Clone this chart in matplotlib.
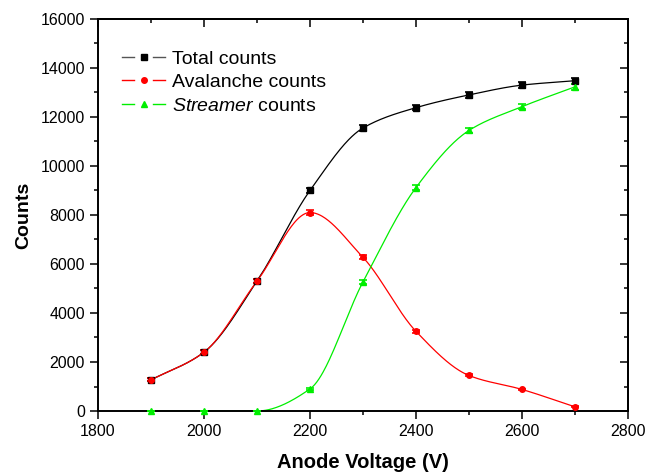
import numpy as np
import matplotlib
matplotlib.use("Agg")
import matplotlib.pyplot as plt
from matplotlib.ticker import MultipleLocator
from matplotlib.lines import Line2D
from matplotlib.legend_handler import HandlerBase

plt.rcParams['font.family'] = ['Liberation Sans', 'DejaVu Sans']
plt.rcParams['mathtext.fontset'] = 'custom'
plt.rcParams['mathtext.it'] = 'Liberation Sans:italic'
plt.rcParams['mathtext.rm'] = 'Liberation Sans'

voltage = [1900, 2000, 2100, 2200, 2300, 2400, 2500, 2600, 2700]
total = [1270, 2400, 5300, 9000, 11550, 12380, 12900, 13300, 13480]
avalanche = [1270, 2400, 5300, 8100, 6270, 3250, 1450, 880, 170]
streamer = [0, 0, 0, 900, 5270, 9120, 11450, 12420, 13230]
total_err = [60, 70, 80, 100, 110, 110, 110, 120, 120]
aval_err = [60, 70, 80, 95, 85, 60, 40, 30, 15]
str_err = [5, 5, 5, 30, 75, 95, 110, 110, 120]


def pchip(x, y, xn):
    x = np.asarray(x, float); y = np.asarray(y, float)
    h = np.diff(x); d = np.diff(y) / h
    n = len(x); m = np.zeros(n)
    for k in range(1, n - 1):
        if d[k - 1] * d[k] > 0:
            w1 = 2 * h[k] + h[k - 1]; w2 = h[k] + 2 * h[k - 1]
            m[k] = (w1 + w2) / (w1 / d[k - 1] + w2 / d[k])
        else:
            m[k] = 0.0
    m[0] = d[0]; m[-1] = d[-1]
    yn = np.empty_like(xn)
    for i, xv in enumerate(xn):
        k = min(max(np.searchsorted(x, xv) - 1, 0), n - 2)
        t = (xv - x[k]) / h[k]
        h00 = 2 * t**3 - 3 * t**2 + 1; h10 = t**3 - 2 * t**2 + t
        h01 = -2 * t**3 + 3 * t**2; h11 = t**3 - t**2
        yn[i] = h00 * y[k] + h10 * h[k] * m[k] + h01 * y[k + 1] + h11 * h[k] * m[k + 1]
    return yn


class GapLineHandler(HandlerBase):
    def create_artists(self, legend, orig, xdescent, ydescent, width, height,
                       fontsize, trans):
        y = height / 2 - ydescent
        x0 = -xdescent
        mid = x0 + width / 2
        gap = width * 0.22
        col = orig.get_color()
        mcol = orig.get_markerfacecolor()
        l1 = Line2D([x0, mid - gap], [y, y], color=col, lw=1.0, transform=trans)
        l2 = Line2D([mid + gap, x0 + width], [y, y], color=col, lw=1.0, transform=trans)
        mk = Line2D([mid], [y], marker=orig.get_marker(), markersize=orig.get_markersize(),
                    markerfacecolor=mcol, markeredgecolor=mcol, linestyle='none',
                    transform=trans)
        return [l1, l2, mk]


fig = plt.figure(figsize=(6.46, 4.74), dpi=100)
ax = fig.add_axes([0.1517, 0.1329, 0.8204, 0.8271])

xs = np.linspace(1900, 2700, 400)
series = [
    (total, total_err, 'black', 's', 'Total counts'),
    (avalanche, aval_err, 'red', 'o', 'Avalanche counts'),
    (streamer, str_err, '#00ee00', '^', '$\\it{Streamer}$ counts'),
]
handles = []
for vals, errs, col, mk, lab in series:
    ax.plot(xs, pchip(voltage, vals, xs), color=col, lw=0.9)
    eb = ax.errorbar(voltage, vals, yerr=errs, fmt=mk, color=col, ms=4,
                     capsize=3, elinewidth=1, capthick=1.2, zorder=3)
    for art in eb.get_children():
        art.set_clip_on(False)
    handles.append(Line2D([], [], color=('#555555' if col == 'black' else col),
                          lw=0.9, marker=mk, markersize=4,
                          markerfacecolor=col, markeredgecolor=col, label=lab))

ax.set_xlim(1800, 2800)
ax.set_ylim(0, 16000)
ax.xaxis.set_major_locator(MultipleLocator(200))
ax.xaxis.set_minor_locator(MultipleLocator(100))
ax.yaxis.set_major_locator(MultipleLocator(2000))
ax.yaxis.set_minor_locator(MultipleLocator(1000))
ax.tick_params(axis='both', which='major', length=6, width=1.1, labelsize=11.5)
ax.tick_params(axis='both', which='minor', length=3, width=1.1)
ax.tick_params(axis='both', which='both', direction='out', top=False, right=False)

axt = ax.secondary_xaxis('top')
axt.xaxis.set_major_locator(MultipleLocator(200))
axt.xaxis.set_minor_locator(MultipleLocator(100))
axt.tick_params(which='major', direction='in', length=6, width=1.1, labeltop=False)
axt.tick_params(which='minor', direction='in', length=3, width=1.1)
axr = ax.secondary_yaxis('right')
axr.yaxis.set_major_locator(MultipleLocator(2000))
axr.yaxis.set_minor_locator(MultipleLocator(1000))
axr.tick_params(which='major', direction='in', length=6, width=1.1, labelright=False)
axr.tick_params(which='minor', direction='in', length=3, width=1.1)
for a in (ax, axt, axr):
    for s in a.spines.values():
        s.set_linewidth(1.4)

ax.set_xlabel('Anode Voltage (V)', fontsize=14.5, fontweight='bold', labelpad=10)
ax.set_ylabel('Counts', fontsize=14, fontweight='bold', labelpad=6)

ax.legend(handles=handles, loc='upper left', bbox_to_anchor=(0.02, 0.955),
          frameon=False, fontsize=14, handlelength=2.2, handletextpad=0.35,
          labelspacing=0.3, borderaxespad=0.3,
          handler_map={Line2D: GapLineHandler()})

fig.savefig('out.png', dpi=100)
